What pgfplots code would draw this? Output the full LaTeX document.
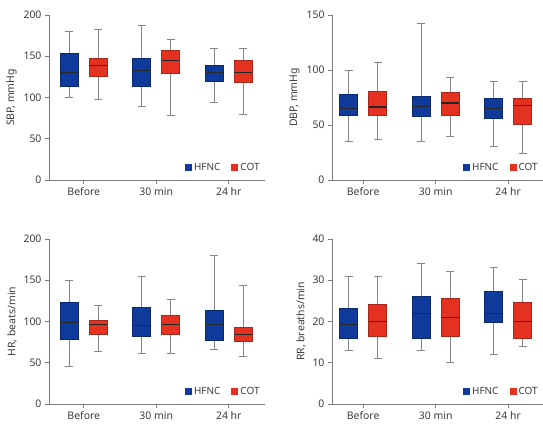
\documentclass[border=0pt]{standalone}
\usepackage{pgfplots}
\pgfplotsset{compat=1.18}
\usepackage{fontspec}
\setmainfont{Noto Sans}
\definecolor{hfnc}{HTML}{0E3A9C}
\definecolor{hfncedge}{HTML}{0A2A70}
\definecolor{cot}{HTML}{E5311F}
\definecolor{cotedge}{HTML}{A8261A}
\definecolor{axgray}{HTML}{7A7A7A}
\definecolor{wgray}{HTML}{858585}
\definecolor{txtgray}{HTML}{3C3C3C}
% \mybox{position}{lower whisker}{lower quartile}{median}{upper quartile}{upper whisker}{fill}{edge}
\newcommand{\mybox}[8]{%
  \pgfmathsetmacro\xa{#1-0.125}\pgfmathsetmacro\xb{#1+0.125}%
  \pgfmathsetmacro\ca{#1-0.055}\pgfmathsetmacro\cb{#1+0.055}%
  \edef\tmp{%
    \noexpand\addplot[wh] coordinates {(#1,#2) (#1,#3)};
    \noexpand\addplot[wh] coordinates {(#1,#5) (#1,#6)};
    \noexpand\addplot[wh] coordinates {(\ca,#2) (\cb,#2)};
    \noexpand\addplot[wh] coordinates {(\ca,#6) (\cb,#6)};
    \noexpand\addplot[fill=#7, draw=#8, line width=0.8pt] coordinates {(\xa,#3) (\xb,#3) (\xb,#5) (\xa,#5)} -- cycle;
    \noexpand\addplot[md] coordinates {(\xa,#4) (\xb,#4)};
  }\tmp}
\pgfplotsset{
  myaxis/.style={
    scale only axis, height=165bp, ymin=0,
    axis x line*=bottom, axis y line*=left,
    xtick={0,1,2}, xticklabels={Before,30 min,24 hr},
    tick align=outside, major tick length=4bp,
    axis line style={draw=axgray, line width=0.8pt},
    tick style={draw=axgray, line width=0.8pt},
    tick label style={font=\fontsize{10.5}{12}\selectfont, text=txtgray},
    /pgf/number format/assume math mode=true,
    label style={font=\fontsize{10.5}{12}\selectfont, text=txtgray},
    legend style={draw=none, fill=none, at={(0.985,0.035)}, anchor=south east,
      font=\fontsize{10}{12}\selectfont, text=txtgray, legend columns=2,
      /tikz/every even column/.append style={column sep=9bp}, inner sep=0pt},
  },
  wh/.style={draw=wgray, line width=0.8pt, mark=none},
  md/.style={draw=black!85, line width=1.3pt, mark=none},
  sqleg/.style={legend image code/.code={\fill[##1, draw=none] (0bp,-3.5bp) rectangle (7bp,3.5bp);}},
}
\newcommand{\myleg}{%
\addlegendimage{sqleg, fill=hfnc}\addlegendentry{HFNC}
\addlegendimage{sqleg, fill=cot}\addlegendentry{COT}}
\begin{document}
\begin{tikzpicture}
\useasboundingbox (0,0) rectangle (543bp,-427bp);
% SBP
\begin{axis}[myaxis, at={(49bp,-180bp)}, anchor=south west, width=216bp, xmin=-0.48, xmax=2.5, ymax=200, ytick={0,50,100,150,200}, ylabel={SBP, mmHg}]
\myleg
\mybox{-0.2}{100}{113.5}{130}{154}{180}{hfnc}{hfncedge}
\mybox{0.2}{98}{126}{139}{147}{183}{cot}{cotedge}
\mybox{0.8}{89}{113.5}{133}{147}{188}{hfnc}{hfncedge}
\mybox{1.2}{78}{129.5}{145}{157}{171}{cot}{cotedge}
\mybox{1.8}{94}{120}{130}{138.5}{160}{hfnc}{hfncedge}
\mybox{2.2}{80}{118}{130}{145}{159}{cot}{cotedge}
\end{axis}
% DBP
\begin{axis}[myaxis, at={(332bp,-180bp)}, anchor=south west, width=211bp, xmin=-0.43, xmax=2.48, ymax=150, ytick={0,50,100,150}, ylabel={DBP, mmHg}]
\myleg
\mybox{-0.2}{35}{59}{65}{78}{100}{hfnc}{hfncedge}
\mybox{0.2}{36.5}{58.5}{66.5}{80.5}{107}{cot}{cotedge}
\mybox{0.8}{35}{57.5}{67}{76}{142.5}{hfnc}{hfncedge}
\mybox{1.2}{40}{59}{70}{80}{93}{cot}{cotedge}
\mybox{1.8}{31}{56}{65}{74.5}{90}{hfnc}{hfncedge}
\mybox{2.2}{24.5}{51}{68}{74.5}{90}{cot}{cotedge}
\end{axis}
% HR
\begin{axis}[myaxis, at={(49bp,-404bp)}, anchor=south west, width=216bp, xmin=-0.48, xmax=2.5, ymax=200, ytick={0,50,100,150,200}, ylabel={HR, beats/min}]
\myleg
\mybox{-0.2}{45}{78}{99}{123.5}{150}{hfnc}{hfncedge}
\mybox{0.2}{64}{84}{96.5}{101.5}{120}{cot}{cotedge}
\mybox{0.8}{61}{81.5}{95.5}{117.5}{155}{hfnc}{hfncedge}
\mybox{1.2}{61}{84}{96}{107}{127}{cot}{cotedge}
\mybox{1.8}{66}{77.5}{96.5}{113.5}{180.5}{hfnc}{hfncedge}
\mybox{2.2}{58}{75.5}{84}{92.5}{143.5}{cot}{cotedge}
\end{axis}
% RR
\begin{axis}[myaxis, at={(332bp,-404bp)}, anchor=south west, width=211bp, xmin=-0.43, xmax=2.48, ymax=40, ytick={0,10,20,30,40}, ylabel={RR, breaths/min}]
\myleg
\mybox{-0.2}{13}{15.8}{19.2}{23.2}{31}{hfnc}{hfncedge}
\mybox{0.2}{11}{16.3}{20}{24.1}{31}{cot}{cotedge}
\mybox{0.8}{13}{15.8}{22}{26.2}{34}{hfnc}{hfncedge}
\mybox{1.2}{10}{16.3}{21}{25.7}{32.2}{cot}{cotedge}
\mybox{1.8}{12}{19.9}{22}{27.2}{33.1}{hfnc}{hfncedge}
\mybox{2.2}{14}{15.8}{20}{24.7}{30.1}{cot}{cotedge}
\end{axis}
\end{tikzpicture}
\end{document}
